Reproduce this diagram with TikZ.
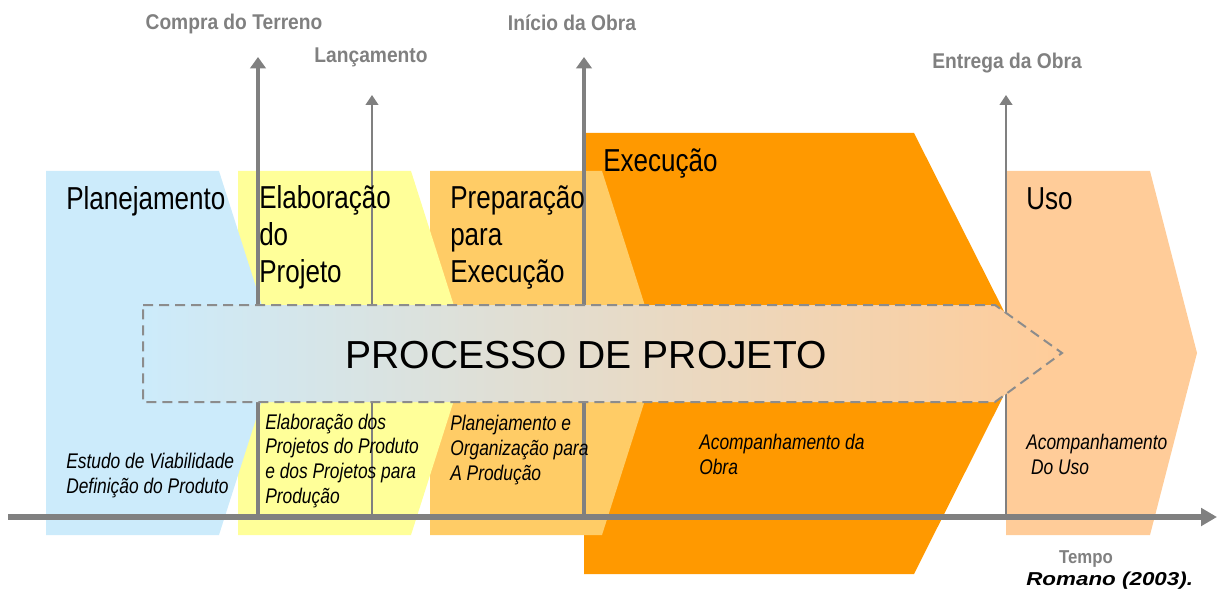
\documentclass[tikz,border=0pt]{standalone}
\usepackage{fontspec}
\setmainfont{Liberation Sans}
\newfontfamily\narrowfont{Liberation Sans}[FakeStretch=0.82]
\newfontfamily\labelfont{Liberation Sans}[FakeStretch=0.9]
\newfontfamily\widefont{Liberation Sans}[FakeStretch=1.2]
\usetikzlibrary{arrows.meta}
\definecolor{planblue}{HTML}{CCEBFB}
\definecolor{elabyellow}{HTML}{FFFF99}
\definecolor{preporange}{HTML}{FFCC66}
\definecolor{execorange}{HTML}{FF9900}
\definecolor{usopeach}{HTML}{FFCC99}
\definecolor{linegray}{HTML}{808080}
\definecolor{dashgray}{HTML}{8C8C8C}

\begin{document}
\begin{tikzpicture}[x=0.75pt, y=-0.75pt,
    phasetitle/.style={anchor=base west, inner sep=0pt, align=left,
        font={\narrowfont\fontsize{23.8}{27.75}\selectfont}},
    phasenote/.style={anchor=base west, inner sep=0pt, align=left,
        font={\narrowfont\itshape\fontsize{15.9}{18.4}\selectfont}},
    stonelabel/.style={anchor=base, inner sep=0pt, text=linegray,
        font={\labelfont\bfseries\fontsize{16}{19}\selectfont}},
    milestone/.style={draw=linegray, line width=3pt,
        -{Triangle[width=11.5pt,length=8.5pt]}},
    minorstone/.style={draw=linegray, line width=1.7pt,
        -{Triangle[width=9.5pt,length=7.5pt]}}]
\useasboundingbox (0,0) rectangle (1219,591);

% fases (de tras para a frente)
\fill[execorange] (584,133) -- (914,133) -- (1025,353) -- (914,574) -- (584,574) -- cycle;
\fill[usopeach] (1006,171) -- (1150,171) -- (1197,353) -- (1150,535) -- (1006,535) -- cycle;
\fill[preporange] (430,171) -- (602,171) -- (660,353) -- (602,535) -- (430,535) -- cycle;
\fill[elabyellow] (238,171) -- (411,171) -- (469,353) -- (411,535) -- (238,535) -- cycle;
\fill[planblue] (46,171) -- (219,171) -- (277,353) -- (219,535) -- (46,535) -- cycle;

% marcos
\coordinate (compra-base) at (258,517);
\coordinate (compra-tip) at (258,57);
\coordinate (lanc-base) at (372,517);
\coordinate (lanc-tip) at (372,95);
\coordinate (inicio-base) at (584,517);
\coordinate (inicio-tip) at (584,57);
\coordinate (entrega-base) at (1006,517);
\coordinate (entrega-tip) at (1006,95);
\draw[milestone] (compra-base) -- (compra-tip);
\draw[minorstone] (lanc-base) -- (lanc-tip);
\draw[milestone] (inicio-base) -- (inicio-tip);
\draw[minorstone] (entrega-base) -- (entrega-tip);

\node[stonelabel] (compra) at (234,30) {Compra do Terreno};
\node[stonelabel] (lanc) at (371,63) {Lançamento};
\node[stonelabel] (inicio) at (572,31) {Início da Obra};
\node[stonelabel] (entrega) at (1007,69) {Entrega da Obra};

% seta do processo
\path[draw=dashgray, line width=1.5pt, dash pattern=on 7.5pt off 4.5pt,
    left color=planblue, right color=usopeach]
    (143,305) -- (995,305) -- (1062,353) -- (995,402) -- (143,402) -- cycle;
\node[anchor=base, inner sep=0pt, font={\fontsize{29.3}{34}\selectfont}]
    (processo) at (586,368) {PROCESSO DE PROJETO};

% eixo do tempo
\coordinate (tempo-start) at (8,517);
\coordinate (tempo-end) at (1217,517);
\draw[draw=linegray, line width=3.8pt, -{Triangle[width=13pt,length=12pt]}]
    (tempo-start) -- (tempo-end);
\node[stonelabel, font={\labelfont\bfseries\fontsize{14}{17}\selectfont}]
    (tempo) at (1086,563) {Tempo};
\node[anchor=base west, inner sep=0pt, font={\widefont\bfseries\itshape\fontsize{14}{17}\selectfont}]
    (fonte) at (1026,585) {Romano (2003).};

% titulos das fases
\node[phasetitle] (plan) at (66,210) {Planejamento};
\node[phasetitle] (elab) at (259,283) {Elaboração\\do\\Projeto};
\node[phasetitle] (prep) at (450,283) {Preparação\\para\\Execução};
\node[phasetitle] (exec) at (603,172) {Execução};
\node[phasetitle] (uso) at (1026,210) {Uso};

% descricoes
\node[phasenote] (plan-note) at (66,493) {Estudo de Viabilidade\\Definição do Produto};
\node[phasenote] (elab-note) at (265,503) {Elaboração dos\\Projetos do Produto\\e dos Projetos para\\Produção};
\node[phasenote] (prep-note) at (450,480) {Planejamento e\\Organização para\\A Produção};
\node[phasenote] (exec-note) at (699,474) {Acompanhamento da\\Obra};
\node[phasenote] (uso-note) at (1026,474) {Acompanhamento\\\ Do Uso};
\end{tikzpicture}
\end{document}
